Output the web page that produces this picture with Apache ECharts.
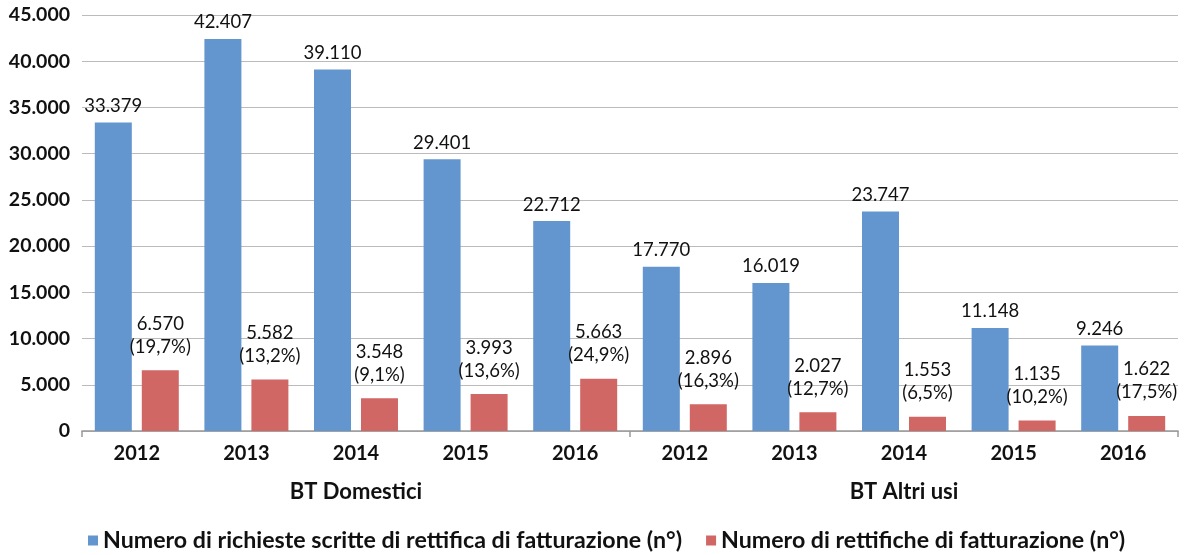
<!DOCTYPE html>
<html><head><meta charset="utf-8">
<script src="https://cdn.jsdelivr.net/npm/echarts@6/dist/echarts.min.js"></script>
<style>html,body{margin:0;padding:0;background:#fff}#c{width:1189px;height:555px}</style>
</head><body><div id="c"></div>
<script>
const years = ['2012','2013','2014','2015','2016','2012','2013','2014','2015','2016'];
const groups = ['BT Domestici','BT Altri usi'];
const seriesNames = ['Numero di richieste scritte di rettifica di fatturazione (n°)','Numero di rettifiche di fatturazione (n°)'];
const richieste = [33379,42407,39110,29401,22712,17770,16019,23747,11148,9246];
const rettifiche = [6570,5582,3548,3993,5663,2896,2027,1553,1135,1622];
const percentuali = ['19,7%','13,2%','9,1%','13,6%','24,9%','16,3%','12,7%','6,5%','10,2%','17,5%'];

const fmt = v => String(v).replace(/\B(?=(\d{3})+(?!\d))/g, '.');
const FONT = 'Lato';
const chart = echarts.init(document.getElementById('c'));
chart.setOption({
  animation:false,
  textStyle:{fontFamily:FONT},
  grid:{left:82,right:11,top:15,bottom:124,containLabel:false},
  legend:{top:529,left:88,padding:0,itemWidth:10,itemHeight:10,itemGap:24,icon:'rect',
    textStyle:{fontFamily:FONT,fontSize:23.2,fontWeight:'bold',color:'#111'},data:seriesNames},
  xAxis:[{type:'category',data:years,position:'bottom',
      axisLine:{lineStyle:{color:'#999',width:1.5}},axisTick:{show:false},
      axisLabel:{margin:13,fontSize:20,fontWeight:'bold',color:'#111',fontFamily:FONT}},
    {type:'category',data:groups,position:'bottom',
      axisLine:{show:false},axisTick:{show:true,length:6,lineStyle:{color:'#999',width:1.5}},
      axisLabel:{margin:50,fontSize:22,fontWeight:'bold',color:'#111',fontFamily:FONT}}],
  yAxis:{type:'value',min:0,max:45000,interval:5000,
    axisLine:{show:false},axisTick:{show:false},
    splitLine:{lineStyle:{color:'#bbb',width:1}},
    axisLabel:{formatter:fmt,margin:12,fontSize:19.5,fontWeight:'bold',color:'#111',fontFamily:FONT}},
  series:[
    {name:seriesNames[0],type:'bar',data:richieste,barWidth:37,barGap:'27%',
     itemStyle:{color:'#6396CF'},
     label:{show:true,position:'top',distance:7,fontSize:18.5,color:'#111',fontFamily:FONT,formatter:p=>fmt(p.value)}},
    {name:seriesNames[1],type:'bar',data:rettifiche,barWidth:37,
     itemStyle:{color:'#D06765'},
     label:{show:true,position:'top',distance:12,fontSize:18.5,lineHeight:23,color:'#111',fontFamily:FONT,align:'center',
       formatter:p=>fmt(p.value)+'\n('+percentuali[p.dataIndex]+')'}}
  ]
});
</script></body></html>
